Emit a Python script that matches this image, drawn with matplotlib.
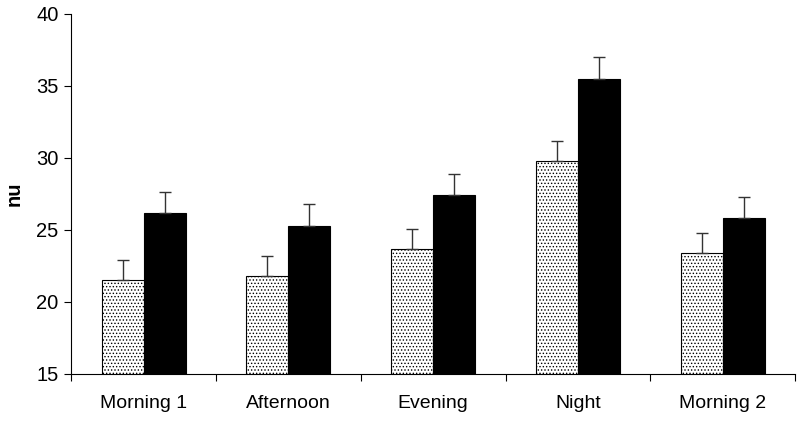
import numpy as np
import matplotlib
matplotlib.use('Agg')
import matplotlib.pyplot as plt

plt.rcParams['font.family'] = ['Liberation Sans', 'DejaVu Sans']
plt.rcParams['hatch.linewidth'] = 0.6

# data
categories = ['Morning 1', 'Afternoon', 'Evening', 'Night', 'Morning 2']
dotted_vals = [21.5, 21.8, 23.7, 29.8, 23.4]
dotted_err = [1.4, 1.4, 1.35, 1.35, 1.35]
black_vals = [26.15, 25.3, 27.4, 35.5, 25.8]
black_err = [1.5, 1.5, 1.5, 1.5, 1.5]

fig = plt.figure(figsize=(8, 4.21), dpi=100)
ax = fig.add_axes([0.089, 0.112, 0.905, 0.855])

x = np.arange(len(categories))
w = 0.29
zeros = [0] * len(categories)

ax.bar(x - w/2, dotted_vals, w, bottom=0, color='white', edgecolor='black',
       linewidth=0.8, hatch='.....', zorder=2)
ax.bar(x + w/2, black_vals, w, color='black', edgecolor='black',
       linewidth=0.8, zorder=2)
ax.errorbar(x - w/2, dotted_vals, yerr=[zeros, dotted_err], fmt='none',
            ecolor='#333333', elinewidth=1, capsize=4, capthick=1, zorder=3)
ax.errorbar(x + w/2, black_vals, yerr=[zeros, black_err], fmt='none',
            ecolor='#333333', elinewidth=1, capsize=4, capthick=1, zorder=3)

ax.set_ylim(15, 40)
ax.set_yticks(range(15, 41, 5))
ax.set_xlim(-0.5, len(categories) - 0.5)
ax.set_xticks(x)
ax.set_xticklabels(categories, fontsize=14)
ax.tick_params(axis='x', which='major', length=0, pad=15)
ax.set_xticks(np.arange(-0.5, len(categories)), minor=True)
ax.tick_params(axis='x', which='minor', length=5, width=0.8, direction='out')
ax.tick_params(axis='y', length=5, width=0.8, direction='out', labelsize=14.5, pad=4)

for s in ['top', 'right']:
    ax.spines[s].set_visible(False)
for s in ['left', 'bottom']:
    ax.spines[s].set_linewidth(0.8)

ax.set_ylabel('nu', fontsize=14.5, fontweight='bold', labelpad=9)

fig.savefig('out.png', dpi=100)
